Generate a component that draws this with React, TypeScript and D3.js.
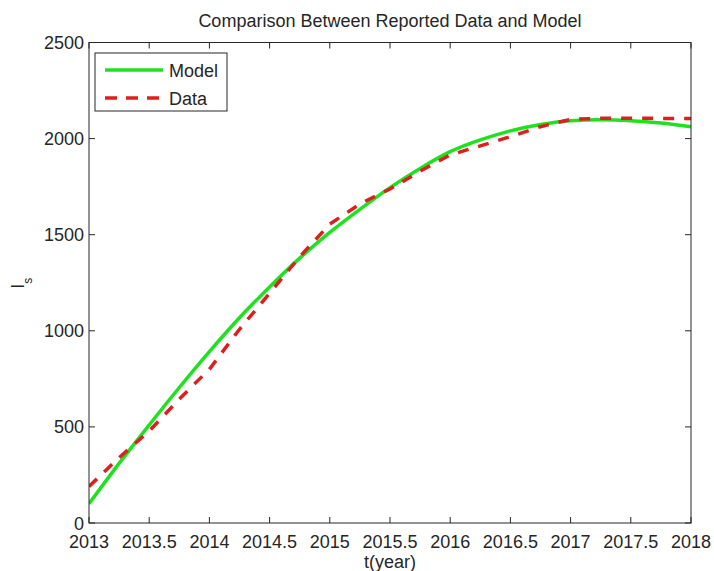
import React from "react";
import * as d3 from "d3";

const years = [2013, 2013.25, 2013.5, 2013.75, 2014, 2014.25, 2014.5, 2014.75, 2015, 2015.25, 2015.5, 2015.75, 2016, 2016.25, 2016.5, 2016.75, 2017, 2017.25, 2017.5, 2017.75, 2018];
const modelValues = [100, 310, 510, 705, 892, 1068, 1228, 1378, 1512, 1632, 1745, 1845, 1932, 1993, 2040, 2073, 2093, 2098, 2093, 2081, 2062];
const dataValues = [190, 340, 478, 645, 800, 1008, 1195, 1385, 1555, 1660, 1738, 1830, 1915, 1962, 2010, 2062, 2100, 2106, 2106, 2105, 2104];
const xTicks = [2013, 2013.5, 2014, 2014.5, 2015, 2015.5, 2016, 2016.5, 2017, 2017.5, 2018];
const yTicks = [0, 500, 1000, 1500, 2000, 2500];
const seriesNames = ["Model", "Data"];
const titleText = "Comparison Between Reported Data and Model";
const xLabel = "t(year)";

const W = 714;
const H = 571;
const left = 89;
const right = 691;
const top = 42.5;
const bottom = 523;
const FONT = "'Liberation Sans', Arial, Helvetica, sans-serif";
const GREEN = "#1fe21f";
const RED = "#dd1f1f";
const AX = "#262626";

export default function App() {
  const x = d3.scaleLinear().domain([2013, 2018]).range([left, right]);
  const y = d3.scaleLinear().domain([0, 2500]).range([bottom, top]);

  const modelLine = d3
    .line<number>()
    .x((_, i) => x(years[i]))
    .y((d) => y(d))
    .curve(d3.curveMonotoneX);
  const dataLine = d3
    .line<number>()
    .x((_, i) => x(years[i]))
    .y((d) => y(d));

  const tickLen = 6;

  return (
    <svg
      width={W}
      height={H}
      style={{ position: "absolute", left: 0, top: 0, background: "#fff" }}
      fontFamily={FONT}
    >
      <rect x={0} y={0} width={W} height={H} fill="#fff" />
      {/* title */}
      <text x={(left + right) / 2} y={27} textAnchor="middle" fontSize={18} fill={AX}>
        {titleText}
      </text>

      {/* curves */}
      <defs>
        <clipPath id="plotclip">
          <rect x={left} y={top} width={right - left} height={bottom - top} />
        </clipPath>
      </defs>
      <g clipPath="url(#plotclip)">
        <path d={modelLine(modelValues) || ""} fill="none" stroke={GREEN} strokeWidth={3.5} />
        <path
          d={dataLine(dataValues) || ""}
          fill="none"
          stroke={RED}
          strokeWidth={3.5}
          strokeDasharray="11 10"
        />
      </g>

      {/* axes box */}
      <rect x={left} y={top} width={right - left} height={bottom - top} fill="none" stroke={AX} strokeWidth={1} />

      {/* x ticks */}
      {xTicks.map((t) => (
        <g key={"x" + t}>
          <line x1={x(t)} x2={x(t)} y1={bottom} y2={bottom - tickLen} stroke={AX} />
          <line x1={x(t)} x2={x(t)} y1={top} y2={top + tickLen} stroke={AX} />
          <text x={x(t)} y={548} textAnchor="middle" fontSize={18} fill={AX}>
            {String(t)}
          </text>
        </g>
      ))}

      {/* y ticks */}
      {yTicks.map((t) => (
        <g key={"y" + t}>
          <line x1={left} x2={left + tickLen} y1={y(t)} y2={y(t)} stroke={AX} />
          <line x1={right} x2={right - tickLen} y1={y(t)} y2={y(t)} stroke={AX} />
          <text x={84} y={y(t) + 6.5} textAnchor="end" fontSize={18} fill={AX}>
            {String(t)}
          </text>
        </g>
      ))}

      {/* axis labels */}
      <text x={(left + right) / 2} y={568} textAnchor="middle" fontSize={18} fill={AX}>
        {xLabel}
      </text>
      <text transform={`translate(23.5, ${(top + bottom) / 2 + 6}) rotate(-90)`} fontSize={18} fill={AX}>
        I
        <tspan fontSize={12} dy={8}>s</tspan>
      </text>

      {/* legend */}
      <rect x={95} y={53} width={132} height={58} fill="#fff" stroke={AX} strokeWidth={1} />
      <line x1={105} x2={163} y1={70} y2={70} stroke={GREEN} strokeWidth={3.5} />
      <text x={169} y={76.5} fontSize={18} fill={AX}>
        {seriesNames[0]}
      </text>
      <line x1={105} x2={163} y1={98} y2={98} stroke={RED} strokeWidth={3.5} strokeDasharray="12 9" />
      <text x={169} y={104.5} fontSize={18} fill={AX}>
        {seriesNames[1]}
      </text>
    </svg>
  );
}
